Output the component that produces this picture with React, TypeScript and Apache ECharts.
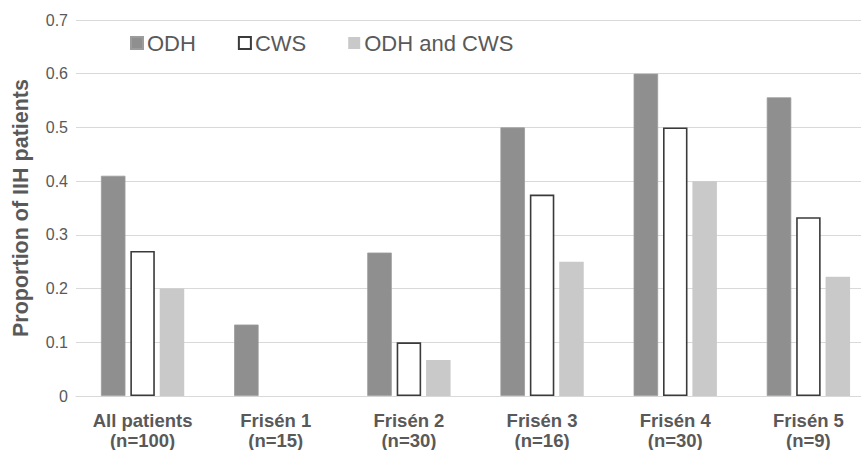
import React, { useEffect, useRef } from "react";
import * as echarts from "echarts";

const categories = [
  "All patients\n(n=100)",
  "Frisén 1\n(n=15)",
  "Frisén 2\n(n=30)",
  "Frisén 3\n(n=16)",
  "Frisén 4\n(n=30)",
  "Frisén 5\n(n=9)",
];
const odh = [0.41, 0.133, 0.267, 0.5, 0.6, 0.556];
const cws = [0.27, 0, 0.1, 0.375, 0.5, 0.333];
const both = [0.2, 0, 0.067, 0.25, 0.4, 0.222];
const seriesNames = ["ODH", "CWS", "ODH and CWS"];

const TEXT = "#595959";
const FONT = "Liberation Sans, Arial, sans-serif";

export default function App() {
  const ref = useRef<HTMLDivElement>(null);
  useEffect(() => {
    if (!ref.current) return;
    const chart = echarts.init(ref.current, null, { renderer: "svg" });
    const noZeroBorder = (arr: number[]) =>
      arr.map((v) => (v === 0 ? { value: v, itemStyle: { borderWidth: 0 } } : v));
    chart.setOption({
      animation: false,
      backgroundColor: "#ffffff",
      textStyle: { fontFamily: FONT },
      grid: {
        left: 76,
        right: -14,
        top: 20,
        bottom: 54,
        containLabel: false,
        outerBoundsMode: "none",
      },
      legend: {
        left: 130,
        top: 32,
        padding: 0,
        itemWidth: 12,
        itemHeight: 12,
        itemGap: 42,
        icon: "rect",
        data: seriesNames,
        textStyle: { fontSize: 22, color: TEXT, fontFamily: FONT, padding: [0, 0, 0, -1] },
      },
      xAxis: {
        type: "category",
        data: categories,
        axisLine: { show: true, lineStyle: { color: "#d9d9d9", width: 1 } },
        axisTick: { show: false },
        axisLabel: {
          color: TEXT,
          fontSize: 18.5,
          fontWeight: "bold",
          lineHeight: 20.5,
          margin: 14,
          fontFamily: FONT,
          interval: 0,
        },
      },
      yAxis: {
        type: "value",
        min: 0,
        max: 0.7,
        interval: 0.1,
        name: "Proportion of IIH patients",
        nameLocation: "middle",
        nameGap: 44,
        nameTextStyle: { fontSize: 21.5, fontWeight: "bold", color: TEXT, fontFamily: FONT },
        axisLine: { show: false },
        axisTick: { show: false },
        axisLabel: {
          color: TEXT,
          fontSize: 16,
          margin: 8,
          fontFamily: FONT,
          formatter: (v: number) => (v === 0 ? "0" : String(Math.round(v * 10) / 10)),
        },
        splitLine: { lineStyle: { color: "#d9d9d9", width: 1 } },
      },
      series: [
        {
          name: seriesNames[0],
          type: "bar",
          data: odh,
          barWidth: 24.5,
          barGap: "20%",
          itemStyle: { color: "#8f8f8f", borderColor: "#9c9c9c", borderWidth: 0.8 },
        },
        {
          name: seriesNames[1],
          type: "bar",
          data: noZeroBorder(cws),
          barWidth: 24.5,
          barGap: "20%",
          itemStyle: { color: "#ffffff", borderColor: "#3a3a3a", borderWidth: 1.6 },
        },
        {
          name: seriesNames[2],
          type: "bar",
          data: both,
          barWidth: 24.5,
          barGap: "20%",
          itemStyle: { color: "#c9c9c9" },
        },
      ],
    });
    return () => chart.dispose();
  }, []);
  return (
    <div
      ref={ref}
      style={{ position: "absolute", left: 0, top: 0, width: 861, height: 450, background: "#fff" }}
    />
  );
}
